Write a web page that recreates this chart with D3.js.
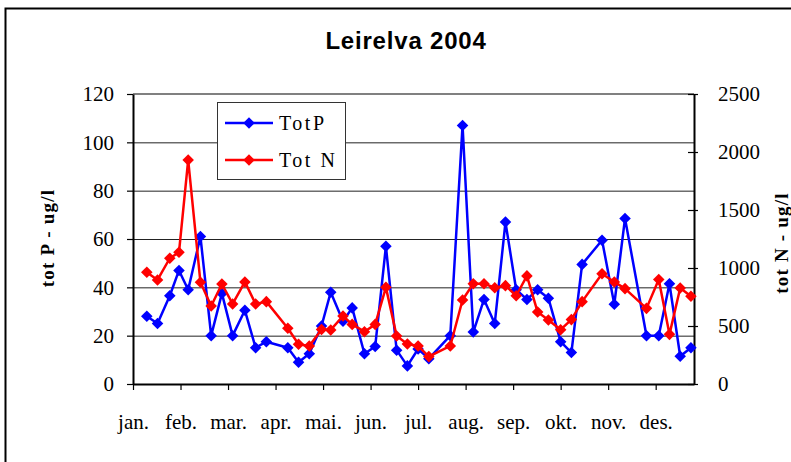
<!DOCTYPE html>
<html>
<head>
<meta charset="utf-8">
<script src="https://cdn.jsdelivr.net/npm/d3@7"></script>
<style>
  body { margin: 0; background: #fff; }
  svg { display: block; }
</style>
</head>
<body>
<div id="chart"></div>
<script>
// month labels under the ticks
const monthLabels = ["jan.", "feb.", "mar.", "apr.", "mai.", "jun.", "jul.", "aug.", "sep.", "okt.", "nov.", "des."];

// sampling dates 2004
const sampleDates = [
  "2004-01-10", "2004-01-17", "2004-01-25", "2004-01-31", "2004-02-06", "2004-02-14", "2004-02-21", "2004-02-28",
  "2004-03-06", "2004-03-14", "2004-03-21", "2004-03-28", "2004-04-11", "2004-04-18", "2004-04-25", "2004-05-03",
  "2004-05-09", "2004-05-17", "2004-05-23", "2004-05-31", "2004-06-07", "2004-06-14", "2004-06-21", "2004-06-28",
  "2004-07-05", "2004-07-12", "2004-07-26", "2004-08-03", "2004-08-10", "2004-08-17", "2004-08-24", "2004-08-31",
  "2004-09-07", "2004-09-14", "2004-09-21", "2004-09-28", "2004-10-06", "2004-10-13", "2004-10-20", "2004-11-02",
  "2004-11-10", "2004-11-17", "2004-12-01", "2004-12-09", "2004-12-16", "2004-12-23", "2004-12-30"
];

// tot P (ug/l), left axis
const totP = [
  28, 25, 36.5, 47, 39, 61, 20, 37.5,
  20, 30.5, 15, 17.5, 15, 9, 12.5, 24,
  38, 26, 31.5, 12.5, 15.5, 57, 14, 7.5,
  14.5, 10.5, 20, 107, 21.5, 35, 25, 67,
  39, 35, 39, 35.5, 17.5, 13, 49.5, 59.5,
  33, 68.5, 20, 20, 41.5, 11.5, 15
];

// tot N (ug/l), right axis
const totN = [
  963, 897, 1084, 1135, 1931, 877, 672, 862,
  690, 880, 690, 710, 480, 343, 328, 470,
  466, 586, 514, 451, 514, 833, 414, 345,
  328, 236, 328, 724, 865, 865, 830, 848,
  761, 932, 620, 552, 468, 555, 710, 950,
  880, 822, 652, 900, 428, 828, 756
];

const leftTicks = [0, 20, 40, 60, 80, 100, 120];
const rightTicks = [0, 500, 1000, 1500, 2000, 2500];

const width = 791, height = 462;
const plot = { left: 133, right: 694, top: 94, bottom: 384 };
const serif = "Liberation Serif, Times New Roman, serif";

const parse = d3.timeParse("%Y-%m-%d");
const start = new Date(2004, 0, 1);
const end = new Date(2005, 0, 1);

const rows = sampleDates.map((d, i) => ({ date: parse(d), p: totP[i], n: totN[i] }));

const x = d3.scaleTime().domain([start, end]).range([plot.left, plot.right]);
const yP = d3.scaleLinear().domain([0, 120]).range([plot.bottom, plot.top]);
const yN = d3.scaleLinear().domain([0, 2500]).range([plot.bottom, plot.top]);

// ticks every 31 days, like the original axis
const tickDates = d3.range(12).map(k => d3.timeDay.offset(start, 31 * k));

const svg = d3.select("#chart").append("svg")
    .attr("width", width)
    .attr("height", height);

// outer frame
svg.append("rect")
    .attr("x", 5.5).attr("y", 8.5)
    .attr("width", 820).attr("height", 480)
    .attr("fill", "#fff")
    .attr("stroke", "#000")
    .attr("stroke-width", 2);

svg.append("text")
    .attr("x", 406).attr("y", 49)
    .attr("text-anchor", "middle")
    .attr("font-family", "Liberation Sans, Arial, sans-serif")
    .attr("font-weight", "bold")
    .attr("font-size", 24)
    .attr("letter-spacing", 0.8)
    .text("Leirelva 2004");

// gridlines
svg.append("g")
  .selectAll("line")
  .data(leftTicks.filter(t => t > 0 && t < 120))
  .join("line")
    .attr("x1", plot.left).attr("x2", plot.right)
    .attr("y1", d => yP(d) + 0.5).attr("y2", d => yP(d) + 0.5)
    .attr("stroke", "#222")
    .attr("stroke-width", 1);

// top border of plot area
svg.append("line")
    .attr("x1", plot.left).attr("x2", plot.right)
    .attr("y1", plot.top).attr("y2", plot.top)
    .attr("stroke", "#808080")
    .attr("stroke-width", 2);

// left axis
const gLeft = svg.append("g")
    .attr("transform", `translate(${plot.left},0)`)
    .call(d3.axisLeft(yP).tickValues(leftTicks).tickSize(6).tickPadding(13).tickSizeOuter(0));

// right axis
const gRight = svg.append("g")
    .attr("transform", `translate(${plot.right},0)`)
    .call(d3.axisRight(yN).tickValues(rightTicks).tickFormat(d3.format("d"))
        .tickSize(4).tickPadding(20).tickSizeOuter(0));
gRight.selectAll(".tick line").attr("x1", -6);

// bottom axis
const gBottom = svg.append("g")
    .attr("transform", `translate(0,${plot.bottom})`)
    .call(d3.axisBottom(x).tickValues(tickDates).tickFormat((d, i) => monthLabels[i])
        .tickSize(6).tickPadding(24).tickSizeOuter(0));

[gLeft, gRight, gBottom].forEach(g => {
    g.attr("font-family", serif).attr("font-size", 21);
    g.select(".domain").attr("stroke", "#000").attr("stroke-width", 2);
    g.selectAll(".tick line").attr("stroke", "#000").attr("stroke-width", 1.2);
    g.selectAll(".tick text").attr("fill", "#000");
});

// axis titles
svg.append("text")
    .attr("transform", "translate(54,238) rotate(-90)")
    .attr("text-anchor", "middle")
    .attr("font-family", serif)
    .attr("font-weight", "bold")
    .attr("font-size", 19)
    .attr("letter-spacing", 1.2)
    .text("tot P - ug/l");

svg.append("text")
    .attr("transform", "translate(788,243) rotate(-90)")
    .attr("text-anchor", "middle")
    .attr("font-family", serif)
    .attr("font-weight", "bold")
    .attr("font-size", 19)
    .attr("letter-spacing", 1.2)
    .text("tot N - ug/l");

const diamond = d3.symbol().type(d3.symbolDiamond2).size(85);

const series = [
    { name: "TotP", color: "#0000ff", y: d => yP(d.p) },
    { name: "Tot N", color: "#ff0000", y: d => yN(d.n) }
];

series.forEach(s => {
    const g = svg.append("g");
    g.append("path")
        .datum(rows)
        .attr("fill", "none")
        .attr("stroke", s.color)
        .attr("stroke-width", 2.5)
        .attr("stroke-linejoin", "round")
        .attr("d", d3.line().x(d => x(d.date)).y(s.y));
    g.selectAll("path.mark")
      .data(rows)
      .join("path")
        .attr("class", "mark")
        .attr("transform", d => `translate(${x(d.date)},${s.y(d)})`)
        .attr("d", diamond)
        .attr("fill", s.color);
});

// legend
const legend = svg.append("g").attr("transform", "translate(217,102)");
legend.append("rect")
    .attr("x", 0.5).attr("y", 0.5)
    .attr("width", 128).attr("height", 77)
    .attr("fill", "#fff")
    .attr("stroke", "#333")
    .attr("stroke-width", 1);

series.forEach((s, i) => {
    const ly = 21 + i * 37;
    legend.append("line")
        .attr("x1", 8).attr("x2", 56)
        .attr("y1", ly).attr("y2", ly)
        .attr("stroke", s.color)
        .attr("stroke-width", 2.5);
    legend.append("path")
        .attr("transform", `translate(32,${ly})`)
        .attr("d", diamond)
        .attr("fill", s.color);
    legend.append("text")
        .attr("x", 62).attr("y", ly + 7)
        .attr("font-family", serif)
        .attr("font-size", 20)
        .attr("letter-spacing", 2.5)
        .text(s.name);
});
</script>
</body>
</html>
